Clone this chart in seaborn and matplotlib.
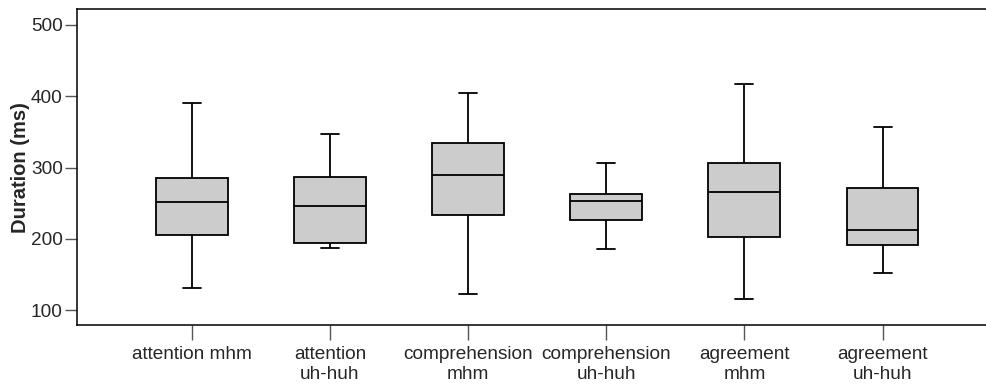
import pandas as pd
import seaborn as sns
import matplotlib.pyplot as plt

# five-number summaries (min, q1, median, q3, max)
categories = ["attention mhm", "attention\nuh-huh", "comprehension\nmhm",
              "comprehension\nuh-huh", "agreement\nmhm", "agreement\nuh-huh"]
att_mhm = [131, 205, 252, 285, 391]
att_uhhuh = [187, 194, 246, 287, 347]
comp_mhm = [123, 234, 289, 335, 405]
comp_uhhuh = [186, 227, 253, 263, 307]
agr_mhm = [116, 203, 266, 306, 417]
agr_uhhuh = [152, 191, 212, 271, 357]

groups = [att_mhm, att_uhhuh, comp_mhm, comp_uhhuh, agr_mhm, agr_uhhuh]
rows = []
for cat, vals in zip(categories, groups):
    for v in vals:
        rows.append({"type": cat, "Duration": v})
df = pd.DataFrame(rows)

sns.set_style("ticks")
plt.rcParams["font.family"] = ["Liberation Sans", "DejaVu Sans"]

fig = plt.figure(figsize=(9.86, 3.87), dpi=100)
ax = fig.add_axes([0.0778, 0.160, 0.934, 0.816])

# whiskers span min..max, 5 points give exact quartiles
sns.boxplot(data=df, x="type", y="Duration", order=categories, whis=(0, 100),
            color="#cccccc", saturation=1, linecolor="black", linewidth=1.3,
            width=0.52, capwidths=0.13, ax=ax)

ax.set_xlim(-0.833, 5.833)
ax.set_ylim(79, 522)
ax.set_yticks([100, 200, 300, 400, 500])
ax.set_xlabel("")
ax.set_ylabel("Duration (ms)", fontsize=14.5, fontweight="bold", labelpad=1)
ax.tick_params(axis="y", labelsize=13.7, length=9, width=1, color="#555555", pad=1)
ax.tick_params(axis="x", labelsize=13.7, length=11, width=1, color="#555555", pad=4)
for s in ax.spines.values():
    s.set_visible(True)
    s.set_color("black")
    s.set_linewidth(1.1)
ax.spines["right"].set_visible(False)

plt.savefig("out.png", dpi=100)
